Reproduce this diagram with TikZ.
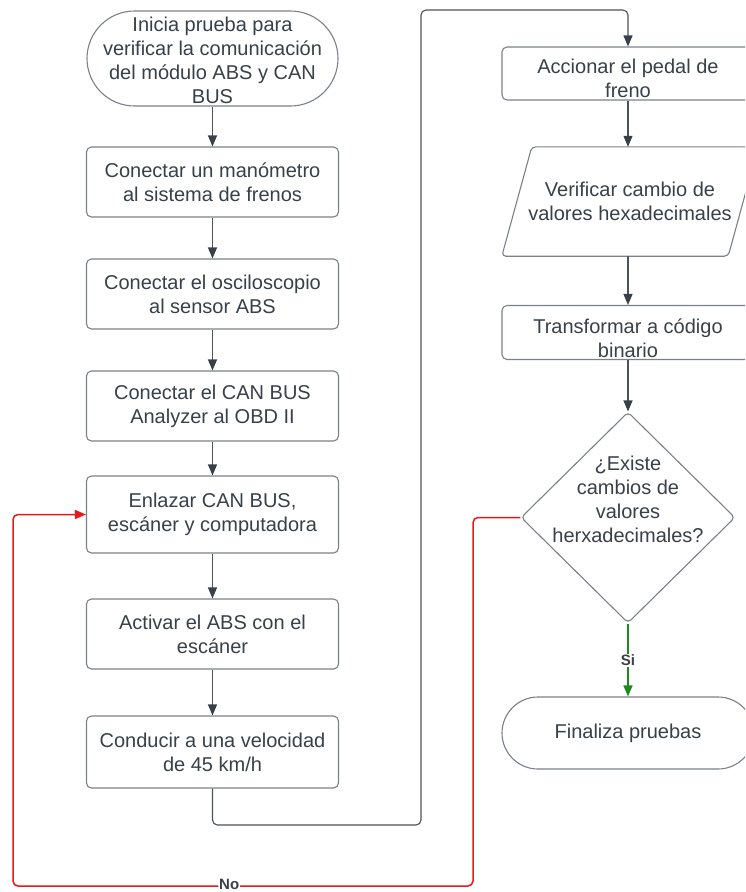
\documentclass[tikz,border=0pt]{standalone}
\usepackage{fontspec}
\setmainfont{Liberation Sans}
\usetikzlibrary{arrows.meta,shapes.geometric,shapes.misc}

\definecolor{ink}{HTML}{39404A}
\definecolor{edgegray}{HTML}{7B8089}
\definecolor{wire}{HTML}{4C525A}
\definecolor{nored}{HTML}{E8191B}
\definecolor{sigreen}{HTML}{1C8A1C}

\tikzset{
  base/.style={draw=edgegray, line width=1.1pt, text=ink, align=center,
    inner sep=0pt, font=\fontsize{20}{24}\selectfont},
  proc/.style={base, rectangle, rounded corners=5pt,
    minimum width=252pt, minimum height=70pt},
  term/.style={base, rounded rectangle, minimum width=251pt, minimum height=95pt},
  txt/.style={text=ink, align=center, inner sep=0pt,
    font=\fontsize{20}{24}\selectfont},
  flow/.style={draw=wire, line width=1.1pt, rounded corners=5pt,
    -{Triangle[length=11pt,width=9pt,color=ink]}},
  nopath/.style={draw=nored, line width=1.5pt, rounded corners=5pt,
    -{Triangle[length=11pt,width=9pt,color=nored]}},
  sipath/.style={draw=sigreen, line width=1.5pt,
    -{Triangle[length=11pt,width=9pt,color=sigreen]}},
  tag/.style={fill=white, text=ink, inner sep=1pt,
    font=\fontsize{15}{16}\selectfont\bfseries},
}

\begin{document}
\begin{tikzpicture}[x=1pt, y=-1pt]
  \path[use as bounding box] (0,0) rectangle (745,892);
  \clip (0,0) rectangle (745,892);
  \fill[white] (0,0) rectangle (745,892);

  % left column
  \node[term] (start) at (212.5,58.5) {};
  \node[txt] at ([yshift=-2pt]start.center) {Inicia prueba para\\verificar la comunicación\\del módulo ABS y CAN\\BUS};
  \node[proc] (mano) at (212.5,182) {Conectar un manómetro\\al sistema de frenos};
  \node[proc] (osci) at (212.5,294) {Conectar el osciloscopio\\al sensor ABS};
  \node[proc] (obd)  at (212.5,406) {Conectar el CAN BUS\\Analyzer al OBD II};
  \node[proc, minimum height=77pt] (enlace) at (212.5,514.5) {Enlazar CAN BUS,\\escáner y computadora};
  \node[proc] (activ) at (212.5,634) {Activar el ABS con el\\escáner};
  \node[proc, minimum height=72pt] (cond) at (212.5,752) {Conducir a una velocidad\\de 45 km/h};

  % right column
  \node[proc, minimum height=53pt] (pedal) at (628,73.5) {};
  \node[txt] at ([yshift=-5pt]pedal.center) {Accionar el pedal de\\freno};
  \node[txt, minimum width=226pt, minimum height=109pt] (verif) at (630,201.5) {Verificar cambio de\\valores hexadecimales};
  \draw[edgegray, line width=1.1pt, rounded corners=4pt]
    ([xshift=-15pt]verif.south west) -- ([xshift=-15pt]verif.south east)
    -- ([xshift=15pt]verif.north east) -- ([xshift=15pt]verif.north west) -- cycle;
  \node[proc, minimum height=54pt] (binar) at (628,332.5) {};
  \node[txt] at ([yshift=-6pt]binar.center) {Transformar a código\\binario};
  \node[base, diamond, rounded corners=4pt, minimum width=214pt, minimum height=211pt] (dec) at (628,517.5) {};
  \node[txt] at ([yshift=18pt]dec.center) {¿Existe\\cambios de\\valores\\herxadecimales?};
  \node[term, minimum width=252pt, minimum height=72pt] (fin) at (628,733) {Finaliza pruebas};

  % connectors
  \draw[flow] (start) -- (mano);
  \draw[flow] (mano) -- (osci);
  \draw[flow] (osci) -- (obd);
  \draw[flow] (obd) -- (enlace);
  \draw[flow] (enlace) -- (activ);
  \draw[flow] (activ) -- (cond);
  \draw[flow] (cond.south) -- (212.5,825) -- (421,825) -- (421,10) -- (628,10) -- (pedal.north);
  \draw[flow] (pedal.south) -- (pedal.south |- verif.north);
  \draw[flow] (verif.south -| binar.north) -- (binar.north);
  \draw[flow] (binar.south) -- (dec.north);
  \draw[sipath] (dec.south) -- node[tag] {Si} (fin.north);
  \draw[nopath] (dec.west) -- (473,517.5) -- (473,886)
    -- node[tag, pos=0.53, yshift=1.5pt] {No} (13,886) |- (enlace.west);
\end{tikzpicture}
\end{document}
